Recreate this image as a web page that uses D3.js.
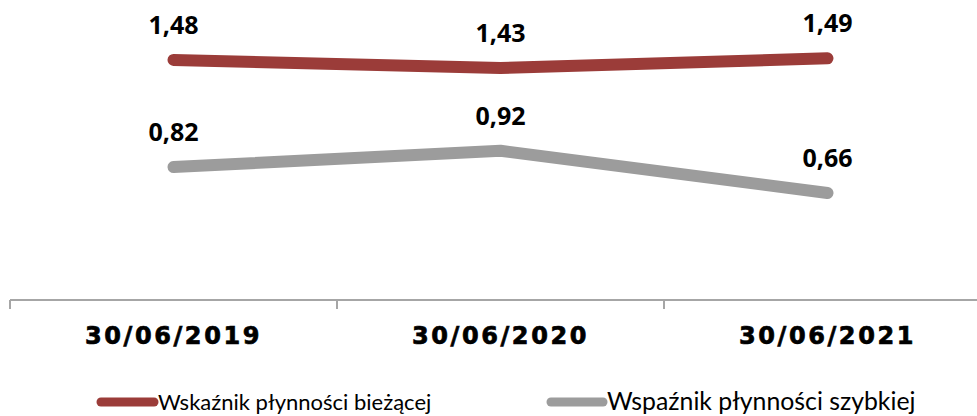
<!DOCTYPE html>
<html>
<head>
<meta charset="utf-8">
<script src="https://cdn.jsdelivr.net/npm/d3@7"></script>
<style>
  body { margin: 0; background: #fff; }
  svg { display: block; }
</style>
</head>
<body>
<svg id="chart" width="977" height="416"></svg>
<script>
// chart data
const categories = ['30/06/2019', '30/06/2020', '30/06/2021'];
const currentRatio = [1.48, 1.43, 1.49];
const quickRatio = [0.82, 0.92, 0.66];
const seriesNames = ['Wskaźnik płynności bieżącej', 'Wspaźnik płynności szybkiej'];
const seriesColors = ['#9b3c39', '#9c9c9c'];

const series = [
  { name: seriesNames[0], values: currentRatio, color: seriesColors[0] },
  { name: seriesNames[1], values: quickRatio, color: seriesColors[1] },
];

const svg = d3.select('#chart');
const axisY = 300;

// X scale - three bands, first tick at x=10
const xScale = d3.scaleBand()
  .domain(categories)
  .range([10, 991])
  .paddingInner(0)
  .paddingOuter(0);

const yScale = d3.scaleLinear()
  .domain([0, 1.8])
  .range([axisY, 8]);

const fmt = v => v.toFixed(2).replace('.', ',');

// Axis line + ticks
const axisG = svg.append('g').attr('transform', 'translate(0,' + axisY + ')');
axisG.append('line')
  .attr('x1', 10).attr('x2', 977)
  .attr('y1', 0).attr('y2', 0)
  .attr('stroke', '#a6a6a6').attr('stroke-width', 2);
axisG.selectAll('.tick')
  .data(categories)
  .enter()
  .append('line')
  .attr('x1', d => xScale(d)).attr('x2', d => xScale(d))
  .attr('y1', 0).attr('y2', 9)
  .attr('stroke', '#a6a6a6').attr('stroke-width', 2);
axisG.selectAll('.cat')
  .data(categories)
  .enter()
  .append('text')
  .attr('x', d => xScale(d) + xScale.bandwidth() / 2)
  .attr('y', 44)
  .attr('text-anchor', 'middle')
  .style('font-family', '"DejaVu Sans", Verdana, sans-serif')
  .style('font-weight', 'bold')
  .style('font-size', '24px')
  .style('letter-spacing', '2.6px')
  .style('stroke', '#000')
  .style('stroke-width', '0.7px')
  .text(d => d);

// Lines
const line = d3.line()
  .x((d, i) => xScale(categories[i]) + xScale.bandwidth() / 2)
  .y(d => yScale(d));

series.forEach(s => {
  svg.append('path')
    .datum(s.values)
    .attr('d', line)
    .attr('fill', 'none')
    .attr('stroke', s.color)
    .attr('stroke-width', 12)
    .attr('stroke-linecap', 'round')
    .attr('stroke-linejoin', 'round');

  svg.selectAll(null)
    .data(s.values)
    .enter()
    .append('text')
    .attr('x', (d, i) => xScale(categories[i]) + xScale.bandwidth() / 2)
    .attr('y', d => yScale(d) - 26)
    .attr('text-anchor', 'middle')
    .style('font-family', '"Open Sans", sans-serif')
    .style('font-weight', 'bold')
    .style('font-size', '25px')
    .text(d => fmt(d));
});

// Legend
const legendItems = [
  { x: 97, textX: 158, size: 22 },
  { x: 547, textX: 607, size: 24.8 },
];
series.forEach((s, i) => {
  const g = svg.append('g');
  g.append('line')
    .attr('x1', legendItems[i].x + 4).attr('x2', legendItems[i].textX - 4)
    .attr('y1', 402).attr('y2', 402)
    .attr('stroke', s.color)
    .attr('stroke-width', 9)
    .attr('stroke-linecap', 'round');
  g.append('text')
    .attr('x', legendItems[i].textX)
    .attr('y', 410)
    .style('font-family', 'Lato, sans-serif')
    .style('font-size', legendItems[i].size + 'px')
    .text(s.name);
});
</script>
</body>
</html>
